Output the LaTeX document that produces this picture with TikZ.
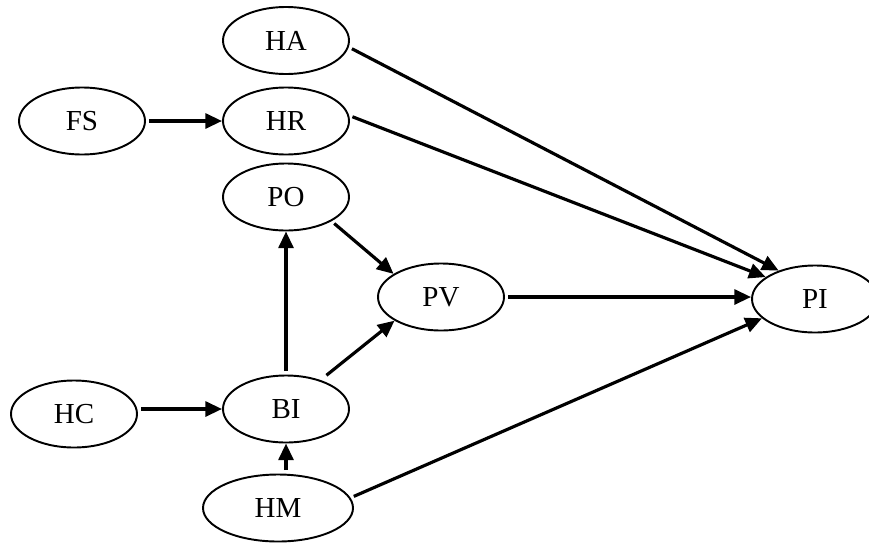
\documentclass[tikz,border=0pt]{standalone}
\usepackage{fontspec}
\setmainfont{Liberation Serif}
\usepackage{tikz}
\usetikzlibrary{shapes.geometric, arrows.meta, positioning}

\begin{document}
\begin{tikzpicture}[
    construct/.style={ellipse, draw, line width=1.1pt, minimum width=2.52cm, minimum height=1.34cm, inner sep=0pt, font=\fontsize{16.5}{20}\selectfont},
    arr/.style={-{Triangle[length=9.5pt,width=8.5pt]}, line width=1.8pt, shorten <=2pt}
]
\useasboundingbox (0,0) rectangle (17.38,10.84);

% Constructs
\node[construct] (HA) at (5.72,10.03) {HA};
\node[construct] (FS) at (1.64,8.42) {FS};
\node[construct] (HR) at (5.72,8.42) {HR};
\node[construct] (PO) at (5.72,6.90) {PO};
\node[construct] (PV) at (8.82,4.90) {PV};
\node[construct] (PI) at (16.30,4.86) {PI};
\node[construct] (HC) at (1.48,2.56) {HC};
\node[construct] (BI) at (5.72,2.66) {BI};
\node[construct, minimum width=3.0cm] (HM) at (5.56,0.68) {HM};

% Paths
\draw[arr] (FS.east) -- (HR.west);
\draw[arr] (BI.west -| HC.east) -- (BI.west);
\draw[arr] (HM.north -| BI.south) -- (BI.south);
\draw[arr] (BI.north) -- (PO.south);
\draw[arr, shorten <=4.3pt] (BI.40) -- (PV.207);
\draw[arr] (PO.-28) -- (PV.154);
\draw[arr] (PV.east) -- (PV.east -| PI.west);
\draw[arr] (HA.-6) -- (PI.142);
\draw[arr] (HR.5) -- (PI.156);
\draw[arr] (HM.8) -- (PI.200);
\end{tikzpicture}
\end{document}
